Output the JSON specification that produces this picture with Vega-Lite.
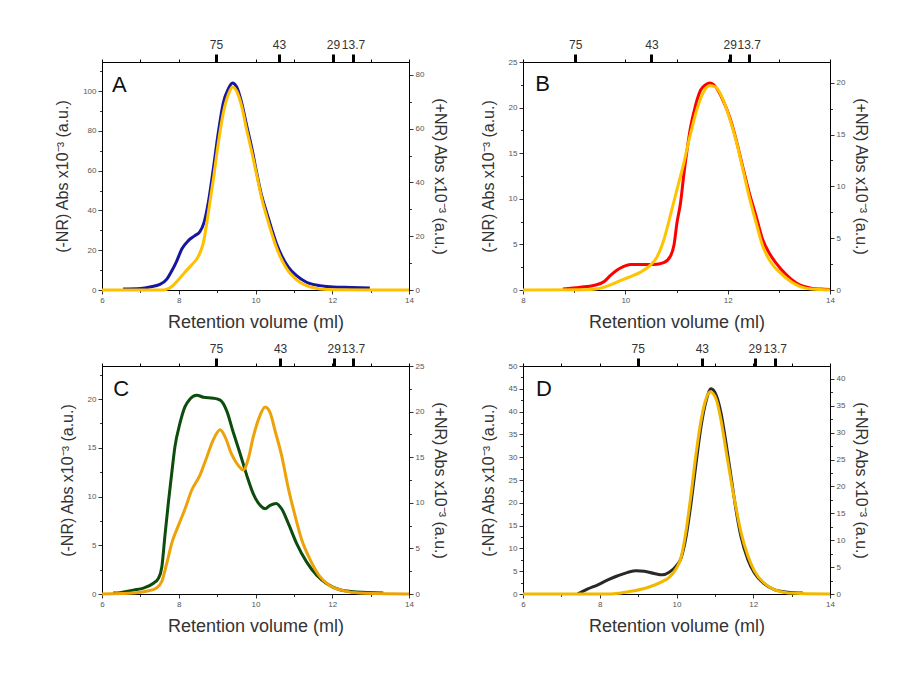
{
"$schema":"https://vega.github.io/schema/vega-lite/v6.json",
"background":"white",
"autosize":{"type":"pad"},
"padding":{"left":54,"top":37,"right":5,"bottom":5},
"config":{
 "font":"Liberation Sans",
 "view":{"stroke":"#000","strokeWidth":1},
 "axis":{"grid":false,"labelFont":"Liberation Sans","labelFontSize":8,"labelColor":"#555","labelFlush":false,"labelOverlap":false,"labelPadding":2,"tickColor":"#333","tickSize":4,"domainColor":"#000","titleFont":"Liberation Sans","titleFontSize":16,"titleFontWeight":"normal","titleColor":"#333"},
 "axisBottom":{"titlePadding":9,"titleFontSize":18},
 "axisLeft":{"titlePadding":12},
 "axisRight":{"titlePadding":8},
 "axisTop":{"labelFontSize":12,"labelColor":"#333","tickColor":"#000","domain":false,"labelPadding":3}
},
"columns":2,
"spacing":{"row":76,"column":114},
"bounds":"flush",
"datasets":{
 "A":[
  {"v":6.55,"a":0.5,"s":"-NR"},{"v":7.0,"a":0.8,"s":"-NR"},{"v":7.25,"a":1.5,"s":"-NR"},{"v":7.51,"a":2.8,"s":"-NR"},{"v":7.69,"a":5.5,"s":"-NR"},{"v":7.82,"a":9.7,"s":"-NR"},{"v":7.95,"a":14.7,"s":"-NR"},{"v":8.08,"a":20.6,"s":"-NR"},{"v":8.25,"a":24.8,"s":"-NR"},{"v":8.42,"a":27.3,"s":"-NR"},{"v":8.55,"a":29.3,"s":"-NR"},{"v":8.66,"a":34,"s":"-NR"},{"v":8.77,"a":44,"s":"-NR"},{"v":8.9,"a":60.8,"s":"-NR"},{"v":9.03,"a":79,"s":"-NR"},{"v":9.16,"a":94,"s":"-NR"},{"v":9.29,"a":101,"s":"-NR"},{"v":9.4,"a":104,"s":"-NR"},{"v":9.51,"a":102,"s":"-NR"},{"v":9.64,"a":94,"s":"-NR"},{"v":9.77,"a":82.6,"s":"-NR"},{"v":9.9,"a":71.7,"s":"-NR"},{"v":10.03,"a":59,"s":"-NR"},{"v":10.16,"a":47.4,"s":"-NR"},{"v":10.29,"a":39,"s":"-NR"},{"v":10.42,"a":30.7,"s":"-NR"},{"v":10.55,"a":23.1,"s":"-NR"},{"v":10.68,"a":17.3,"s":"-NR"},{"v":10.86,"a":11.4,"s":"-NR"},{"v":11.07,"a":7.2,"s":"-NR"},{"v":11.33,"a":3.9,"s":"-NR"},{"v":11.68,"a":2.2,"s":"-NR"},{"v":12.03,"a":1.5,"s":"-NR"},{"v":12.5,"a":1.3,"s":"-NR"},{"v":12.98,"a":1.0,"s":"-NR"},
  {"v":6.0,"a":0,"s":"+NR"},{"v":7.6,"a":0,"s":"+NR"},{"v":7.69,"a":0.3,"s":"+NR"},{"v":7.82,"a":1.3,"s":"+NR"},{"v":7.99,"a":3.8,"s":"+NR"},{"v":8.16,"a":6.6,"s":"+NR"},{"v":8.34,"a":9.4,"s":"+NR"},{"v":8.51,"a":12.5,"s":"+NR"},{"v":8.64,"a":17.5,"s":"+NR"},{"v":8.77,"a":28.6,"s":"+NR"},{"v":8.9,"a":41,"s":"+NR"},{"v":9.03,"a":54.6,"s":"+NR"},{"v":9.16,"a":65.8,"s":"+NR"},{"v":9.29,"a":72.6,"s":"+NR"},{"v":9.4,"a":75.5,"s":"+NR"},{"v":9.51,"a":73.9,"s":"+NR"},{"v":9.64,"a":68.3,"s":"+NR"},{"v":9.77,"a":59.6,"s":"+NR"},{"v":9.9,"a":51.5,"s":"+NR"},{"v":10.03,"a":42.9,"s":"+NR"},{"v":10.16,"a":34.2,"s":"+NR"},{"v":10.29,"a":27.4,"s":"+NR"},{"v":10.42,"a":21.2,"s":"+NR"},{"v":10.55,"a":15.6,"s":"+NR"},{"v":10.68,"a":11.3,"s":"+NR"},{"v":10.86,"a":6.9,"s":"+NR"},{"v":11.07,"a":3.8,"s":"+NR"},{"v":11.33,"a":1.6,"s":"+NR"},{"v":11.68,"a":0.4,"s":"+NR"},{"v":12.03,"a":0.1,"s":"+NR"},{"v":14.0,"a":0,"s":"+NR"}
 ],
 "B":[
  {"v":8.78,"a":0.1,"s":"-NR"},{"v":9.12,"a":0.3,"s":"-NR"},{"v":9.38,"a":0.5,"s":"-NR"},{"v":9.58,"a":0.9,"s":"-NR"},{"v":9.71,"a":1.6,"s":"-NR"},{"v":9.84,"a":2.2,"s":"-NR"},{"v":9.97,"a":2.6,"s":"-NR"},{"v":10.1,"a":2.8,"s":"-NR"},{"v":10.29,"a":2.8,"s":"-NR"},{"v":10.56,"a":2.8,"s":"-NR"},{"v":10.75,"a":3.0,"s":"-NR"},{"v":10.88,"a":3.7,"s":"-NR"},{"v":10.95,"a":4.9,"s":"-NR"},{"v":11.01,"a":7.4,"s":"-NR"},{"v":11.08,"a":9.6,"s":"-NR"},{"v":11.14,"a":12.5,"s":"-NR"},{"v":11.21,"a":15.5,"s":"-NR"},{"v":11.27,"a":17.7,"s":"-NR"},{"v":11.37,"a":20.2,"s":"-NR"},{"v":11.47,"a":21.9,"s":"-NR"},{"v":11.57,"a":22.5,"s":"-NR"},{"v":11.65,"a":22.7,"s":"-NR"},{"v":11.76,"a":22.3,"s":"-NR"},{"v":11.9,"a":20.9,"s":"-NR"},{"v":12.03,"a":19.1,"s":"-NR"},{"v":12.16,"a":16.6,"s":"-NR"},{"v":12.29,"a":13.6,"s":"-NR"},{"v":12.42,"a":10.7,"s":"-NR"},{"v":12.55,"a":8.2,"s":"-NR"},{"v":12.68,"a":5.6,"s":"-NR"},{"v":12.84,"a":3.8,"s":"-NR"},{"v":13.04,"a":2.3,"s":"-NR"},{"v":13.24,"a":1.2,"s":"-NR"},{"v":13.43,"a":0.5,"s":"-NR"},{"v":13.63,"a":0.2,"s":"-NR"},{"v":13.82,"a":0.1,"s":"-NR"},{"v":14.0,"a":0.05,"s":"-NR"},
  {"v":8.0,"a":0,"s":"+NR"},{"v":9.25,"a":0.03,"s":"+NR"},{"v":9.51,"a":0.16,"s":"+NR"},{"v":9.71,"a":0.5,"s":"+NR"},{"v":9.9,"a":0.9,"s":"+NR"},{"v":10.1,"a":1.3,"s":"+NR"},{"v":10.29,"a":1.7,"s":"+NR"},{"v":10.49,"a":2.4,"s":"+NR"},{"v":10.62,"a":3.2,"s":"+NR"},{"v":10.75,"a":4.8,"s":"+NR"},{"v":10.88,"a":7.2,"s":"+NR"},{"v":11.01,"a":9.7,"s":"+NR"},{"v":11.14,"a":12.2,"s":"+NR"},{"v":11.27,"a":15.0,"s":"+NR"},{"v":11.41,"a":17.6,"s":"+NR"},{"v":11.54,"a":19.2,"s":"+NR"},{"v":11.65,"a":19.7,"s":"+NR"},{"v":11.76,"a":19.6,"s":"+NR"},{"v":11.9,"a":18.5,"s":"+NR"},{"v":12.03,"a":16.7,"s":"+NR"},{"v":12.16,"a":14.5,"s":"+NR"},{"v":12.29,"a":11.8,"s":"+NR"},{"v":12.42,"a":9.0,"s":"+NR"},{"v":12.55,"a":6.6,"s":"+NR"},{"v":12.68,"a":4.3,"s":"+NR"},{"v":12.84,"a":2.7,"s":"+NR"},{"v":13.04,"a":1.6,"s":"+NR"},{"v":13.24,"a":0.8,"s":"+NR"},{"v":13.43,"a":0.3,"s":"+NR"},{"v":13.63,"a":0.1,"s":"+NR"},{"v":14.0,"a":0,"s":"+NR"}
 ],
 "C":[
  {"v":6.29,"a":0.1,"s":"-NR"},{"v":6.47,"a":0.14,"s":"-NR"},{"v":6.82,"a":0.4,"s":"-NR"},{"v":7.08,"a":0.6,"s":"-NR"},{"v":7.34,"a":1.1,"s":"-NR"},{"v":7.47,"a":1.6,"s":"-NR"},{"v":7.56,"a":2.8,"s":"-NR"},{"v":7.64,"a":6.0,"s":"-NR"},{"v":7.73,"a":9.4,"s":"-NR"},{"v":7.82,"a":12.5,"s":"-NR"},{"v":7.9,"a":15.1,"s":"-NR"},{"v":8.03,"a":17.5,"s":"-NR"},{"v":8.16,"a":19.2,"s":"-NR"},{"v":8.29,"a":20.0,"s":"-NR"},{"v":8.47,"a":20.4,"s":"-NR"},{"v":8.64,"a":20.2,"s":"-NR"},{"v":8.9,"a":20.1,"s":"-NR"},{"v":9.08,"a":19.9,"s":"-NR"},{"v":9.25,"a":18.8,"s":"-NR"},{"v":9.42,"a":16.6,"s":"-NR"},{"v":9.6,"a":14.4,"s":"-NR"},{"v":9.77,"a":12.2,"s":"-NR"},{"v":9.94,"a":10.3,"s":"-NR"},{"v":10.12,"a":9.1,"s":"-NR"},{"v":10.25,"a":8.75,"s":"-NR"},{"v":10.38,"a":9.1,"s":"-NR"},{"v":10.54,"a":9.3,"s":"-NR"},{"v":10.68,"a":8.75,"s":"-NR"},{"v":10.86,"a":7.2,"s":"-NR"},{"v":11.07,"a":5.2,"s":"-NR"},{"v":11.33,"a":3.3,"s":"-NR"},{"v":11.6,"a":1.9,"s":"-NR"},{"v":11.86,"a":1.06,"s":"-NR"},{"v":12.2,"a":0.44,"s":"-NR"},{"v":12.64,"a":0.2,"s":"-NR"},{"v":13.33,"a":0.1,"s":"-NR"},
  {"v":6.0,"a":0,"s":"+NR"},{"v":6.5,"a":0.05,"s":"+NR"},{"v":6.82,"a":0.1,"s":"+NR"},{"v":7.16,"a":0.3,"s":"+NR"},{"v":7.42,"a":0.66,"s":"+NR"},{"v":7.56,"a":1.4,"s":"+NR"},{"v":7.69,"a":3.4,"s":"+NR"},{"v":7.82,"a":5.6,"s":"+NR"},{"v":7.99,"a":7.5,"s":"+NR"},{"v":8.16,"a":9.3,"s":"+NR"},{"v":8.34,"a":11.4,"s":"+NR"},{"v":8.55,"a":13.0,"s":"+NR"},{"v":8.73,"a":15.0,"s":"+NR"},{"v":8.9,"a":16.9,"s":"+NR"},{"v":9.08,"a":18.0,"s":"+NR"},{"v":9.21,"a":17.2,"s":"+NR"},{"v":9.38,"a":15.3,"s":"+NR"},{"v":9.55,"a":14.1,"s":"+NR"},{"v":9.68,"a":13.6,"s":"+NR"},{"v":9.81,"a":14.8,"s":"+NR"},{"v":9.94,"a":17.2,"s":"+NR"},{"v":10.1,"a":19.4,"s":"+NR"},{"v":10.25,"a":20.5,"s":"+NR"},{"v":10.38,"a":19.9,"s":"+NR"},{"v":10.51,"a":17.9,"s":"+NR"},{"v":10.68,"a":15.2,"s":"+NR"},{"v":10.86,"a":11.5,"s":"+NR"},{"v":11.03,"a":8.6,"s":"+NR"},{"v":11.2,"a":6.0,"s":"+NR"},{"v":11.42,"a":3.8,"s":"+NR"},{"v":11.68,"a":1.9,"s":"+NR"},{"v":11.94,"a":0.9,"s":"+NR"},{"v":12.29,"a":0.37,"s":"+NR"},{"v":12.72,"a":0.1,"s":"+NR"},{"v":14.0,"a":0,"s":"+NR"}
 ],
 "D":[
  {"v":7.42,"a":0,"s":"-NR"},{"v":7.47,"a":0.2,"s":"-NR"},{"v":7.69,"a":1.1,"s":"-NR"},{"v":7.95,"a":2.0,"s":"-NR"},{"v":8.21,"a":3.1,"s":"-NR"},{"v":8.47,"a":4.0,"s":"-NR"},{"v":8.73,"a":4.75,"s":"-NR"},{"v":8.95,"a":5.1,"s":"-NR"},{"v":9.16,"a":5.0,"s":"-NR"},{"v":9.42,"a":4.5,"s":"-NR"},{"v":9.64,"a":4.2,"s":"-NR"},{"v":9.81,"a":4.75,"s":"-NR"},{"v":9.99,"a":6.1,"s":"-NR"},{"v":10.12,"a":7.9,"s":"-NR"},{"v":10.25,"a":12.6,"s":"-NR"},{"v":10.38,"a":20.0,"s":"-NR"},{"v":10.51,"a":28.7,"s":"-NR"},{"v":10.64,"a":36.8,"s":"-NR"},{"v":10.77,"a":42.3,"s":"-NR"},{"v":10.9,"a":45.0,"s":"-NR"},{"v":11.03,"a":43.7,"s":"-NR"},{"v":11.16,"a":39.7,"s":"-NR"},{"v":11.29,"a":33.1,"s":"-NR"},{"v":11.42,"a":25.8,"s":"-NR"},{"v":11.55,"a":18.5,"s":"-NR"},{"v":11.68,"a":12.6,"s":"-NR"},{"v":11.86,"a":7.5,"s":"-NR"},{"v":12.03,"a":4.6,"s":"-NR"},{"v":12.29,"a":2.2,"s":"-NR"},{"v":12.55,"a":0.95,"s":"-NR"},{"v":12.9,"a":0.4,"s":"-NR"},{"v":13.29,"a":0.2,"s":"-NR"},
  {"v":6.0,"a":0,"s":"+NR"},{"v":8.29,"a":0,"s":"+NR"},{"v":8.55,"a":0.2,"s":"+NR"},{"v":8.9,"a":0.6,"s":"+NR"},{"v":9.25,"a":1.2,"s":"+NR"},{"v":9.6,"a":2.2,"s":"+NR"},{"v":9.81,"a":3.1,"s":"+NR"},{"v":9.99,"a":4.7,"s":"+NR"},{"v":10.12,"a":6.8,"s":"+NR"},{"v":10.25,"a":11.8,"s":"+NR"},{"v":10.38,"a":18.6,"s":"+NR"},{"v":10.51,"a":26.1,"s":"+NR"},{"v":10.64,"a":32.3,"s":"+NR"},{"v":10.77,"a":36.3,"s":"+NR"},{"v":10.88,"a":37.6,"s":"+NR"},{"v":11.03,"a":36.3,"s":"+NR"},{"v":11.16,"a":32.3,"s":"+NR"},{"v":11.29,"a":26.7,"s":"+NR"},{"v":11.42,"a":21.1,"s":"+NR"},{"v":11.55,"a":16.1,"s":"+NR"},{"v":11.68,"a":11.5,"s":"+NR"},{"v":11.86,"a":7.1,"s":"+NR"},{"v":12.03,"a":4.3,"s":"+NR"},{"v":12.29,"a":2.0,"s":"+NR"},{"v":12.55,"a":0.8,"s":"+NR"},{"v":12.9,"a":0.2,"s":"+NR"},{"v":14.0,"a":0,"s":"+NR"}
 ]
},
"concat":[
 {"width":307,"height":228,
  "layer":[
   {"data":{"name":"A"},"transform":[{"filter":"datum.s==='-NR'"}],"mark":{"type":"line","color":"#1616a0","strokeWidth":3,"interpolate":"monotone"},
    "encoding":{"x":{"field":"v","type":"quantitative","scale":{"domain":[6,14],"nice":false,"zero":false},"axis":{"orient":"bottom","title":"Retention volume (ml)","values":[6,7,8,9,10,11,12,13,14],"labelExpr":"datum.value % 2 === 0 ? datum.label : ''","tickSize":{"condition":{"test":"datum.value % 2 === 0","value":4},"value":2.5}}},
     "y":{"field":"a","type":"quantitative","scale":{"domain":[0,114.6],"nice":false,"zero":false},"axis":{"orient":"left","title":"(-NR) Abs x10⁻³ (a.u.)","values":[0,10,20,30,40,50,60,70,80,90,100,110],"labelExpr":"datum.value % 20 === 0 ? datum.label : ''","tickSize":{"condition":{"test":"datum.value % 20 === 0","value":4},"value":2.5}}}}},
   {"data":{"name":"A"},"transform":[{"filter":"datum.s==='+NR'"}],"mark":{"type":"line","color":"#ffc000","strokeWidth":3,"interpolate":"monotone"},
    "encoding":{"x":{"field":"v","type":"quantitative","scale":{"domain":[6,14],"nice":false,"zero":false},"axis":null},
     "y":{"field":"a","type":"quantitative","scale":{"domain":[0,84.8],"nice":false,"zero":false},"axis":{"orient":"right","title":"(+NR) Abs x10⁻³ (a.u.)","values":[0,10,20,30,40,50,60,70,80],"labelExpr":"datum.value % 20 === 0 ? datum.label : ''","tickSize":{"condition":{"test":"datum.value % 20 === 0","value":4},"value":2.5}}}}},
   {"data":{"values":[{"v":8.97,"kDa":"75"},{"v":10.61,"kDa":"43"},{"v":12.02,"kDa":"29"},{"v":12.54,"kDa":"13.7"}]},"mark":{"type":"point","opacity":0},
    "encoding":{"x":{"field":"v","type":"quantitative","scale":{"domain":[6,14],"nice":false,"zero":false},"axis":{"orient":"top","title":null,"values":[6,7,8,9,10,11,12,13,14,8.97,10.61,12.02,12.54],"labelExpr":"datum.value % 1 === 0 ? '' : datum.value < 9.5 ? '75' : datum.value < 11 ? '43' : datum.value < 12.3 ? '29' : '13.7'","tickSize":{"condition":{"test":"datum.value % 1 === 0","value":3},"value":8},"tickWidth":{"condition":{"test":"datum.value % 1 === 0","value":1},"value":3}}}}},
   {"data":{"values":[{"t":"A"}]},"mark":{"type":"text","fontSize":22,"align":"left","baseline":"alphabetic","color":"#111"},
    "encoding":{"text":{"field":"t"},"x":{"datum":6.26,"type":"quantitative","scale":{"domain":[6,14],"nice":false,"zero":false},"axis":null},"y":{"datum":99.5,"type":"quantitative","scale":{"domain":[0,114.6],"nice":false,"zero":false},"axis":null}}}
  ],
  "resolve":{"scale":{"y":"independent"},"axis":{"x":"independent","y":"independent"}}},
 {"width":307,"height":228,
  "layer":[
   {"data":{"name":"B"},"transform":[{"filter":"datum.s==='-NR'"}],"mark":{"type":"line","color":"#ff0000","strokeWidth":3,"interpolate":"monotone"},
    "encoding":{"x":{"field":"v","type":"quantitative","scale":{"domain":[8,14],"nice":false,"zero":false},"axis":{"orient":"bottom","title":"Retention volume (ml)","values":[8,9,10,11,12,13,14],"labelExpr":"datum.value % 2 === 0 ? datum.label : ''","tickSize":{"condition":{"test":"datum.value % 2 === 0","value":4},"value":2.5}}},
     "y":{"field":"a","type":"quantitative","scale":{"domain":[0,25],"nice":false,"zero":false},"axis":{"orient":"left","title":"(-NR) Abs x10⁻³ (a.u.)","values":[0,2.5,5,7.5,10,12.5,15,17.5,20,22.5,25],"labelExpr":"datum.value % 5 === 0 ? datum.label : ''","tickSize":{"condition":{"test":"datum.value % 5 === 0","value":4},"value":2.5}}}}},
   {"data":{"name":"B"},"transform":[{"filter":"datum.s==='+NR'"}],"mark":{"type":"line","color":"#ffc400","strokeWidth":3,"interpolate":"monotone"},
    "encoding":{"x":{"field":"v","type":"quantitative","scale":{"domain":[8,14],"nice":false,"zero":false},"axis":null},
     "y":{"field":"a","type":"quantitative","scale":{"domain":[0,22],"nice":false,"zero":false},"axis":{"orient":"right","title":"(+NR) Abs x10⁻³ (a.u.)","values":[0,2.5,5,7.5,10,12.5,15,17.5,20],"labelExpr":"datum.value % 5 === 0 ? datum.label : ''","tickSize":{"condition":{"test":"datum.value % 5 === 0","value":4},"value":2.5}}}}},
   {"data":{"values":[{"v":9.02,"kDa":"75"},{"v":10.51,"kDa":"43"},{"v":12.04,"kDa":"29"},{"v":12.41,"kDa":"13.7"}]},"mark":{"type":"point","opacity":0},
    "encoding":{"x":{"field":"v","type":"quantitative","scale":{"domain":[8,14],"nice":false,"zero":false},"axis":{"orient":"top","title":null,"values":[8,9,10,11,12,13,14,9.02,10.51,12.04,12.41],"labelExpr":"datum.value % 1 === 0 ? '' : datum.value < 9.5 ? '75' : datum.value < 11 ? '43' : datum.value < 12.2 ? '29' : '13.7'","tickSize":{"condition":{"test":"datum.value % 1 === 0","value":3},"value":8},"tickWidth":{"condition":{"test":"datum.value % 1 === 0","value":1},"value":3}}}}},
   {"data":{"values":[{"t":"B"}]},"mark":{"type":"text","fontSize":22,"align":"left","baseline":"alphabetic","color":"#111"},
    "encoding":{"text":{"field":"t"},"x":{"datum":8.24,"type":"quantitative","scale":{"domain":[8,14],"nice":false,"zero":false},"axis":null},"y":{"datum":21.8,"type":"quantitative","scale":{"domain":[0,25],"nice":false,"zero":false},"axis":null}}}
  ],
  "resolve":{"scale":{"y":"independent"},"axis":{"x":"independent","y":"independent"}}},
 {"width":307,"height":228,
  "layer":[
   {"data":{"name":"C"},"transform":[{"filter":"datum.s==='-NR'"}],"mark":{"type":"line","color":"#0c4c0c","strokeWidth":3,"interpolate":"monotone"},
    "encoding":{"x":{"field":"v","type":"quantitative","scale":{"domain":[6,14],"nice":false,"zero":false},"axis":{"orient":"bottom","title":"Retention volume (ml)","values":[6,7,8,9,10,11,12,13,14],"labelExpr":"datum.value % 2 === 0 ? datum.label : ''","tickSize":{"condition":{"test":"datum.value % 2 === 0","value":4},"value":2.5}}},
     "y":{"field":"a","type":"quantitative","scale":{"domain":[0,23.4],"nice":false,"zero":false},"axis":{"orient":"left","title":"(-NR) Abs x10⁻³ (a.u.)","values":[0,2.5,5,7.5,10,12.5,15,17.5,20,22.5],"labelExpr":"datum.value % 5 === 0 ? datum.label : ''","tickSize":{"condition":{"test":"datum.value % 5 === 0","value":4},"value":2.5}}}}},
   {"data":{"name":"C"},"transform":[{"filter":"datum.s==='+NR'"}],"mark":{"type":"line","color":"#eea20a","strokeWidth":3,"interpolate":"monotone"},
    "encoding":{"x":{"field":"v","type":"quantitative","scale":{"domain":[6,14],"nice":false,"zero":false},"axis":null},
     "y":{"field":"a","type":"quantitative","scale":{"domain":[0,25],"nice":false,"zero":false},"axis":{"orient":"right","title":"(+NR) Abs x10⁻³ (a.u.)","values":[0,2.5,5,7.5,10,12.5,15,17.5,20,22.5,25],"labelExpr":"datum.value % 5 === 0 ? datum.label : ''","tickSize":{"condition":{"test":"datum.value % 5 === 0","value":4},"value":2.5}}}}},
   {"data":{"values":[{"v":8.97,"kDa":"75"},{"v":10.64,"kDa":"43"},{"v":12.04,"kDa":"29"},{"v":12.54,"kDa":"13.7"}]},"mark":{"type":"point","opacity":0},
    "encoding":{"x":{"field":"v","type":"quantitative","scale":{"domain":[6,14],"nice":false,"zero":false},"axis":{"orient":"top","title":null,"values":[6,7,8,9,10,11,12,13,14,8.97,10.64,12.04,12.54],"labelExpr":"datum.value % 1 === 0 ? '' : datum.value < 9.5 ? '75' : datum.value < 11 ? '43' : datum.value < 12.3 ? '29' : '13.7'","tickSize":{"condition":{"test":"datum.value % 1 === 0","value":3},"value":8},"tickWidth":{"condition":{"test":"datum.value % 1 === 0","value":1},"value":3}}}}},
   {"data":{"values":[{"t":"C"}]},"mark":{"type":"text","fontSize":22,"align":"left","baseline":"alphabetic","color":"#111"},
    "encoding":{"text":{"field":"t"},"x":{"datum":6.29,"type":"quantitative","scale":{"domain":[6,14],"nice":false,"zero":false},"axis":null},"y":{"datum":20.3,"type":"quantitative","scale":{"domain":[0,23.4],"nice":false,"zero":false},"axis":null}}}
  ],
  "resolve":{"scale":{"y":"independent"},"axis":{"x":"independent","y":"independent"}}},
 {"width":307,"height":228,
  "layer":[
   {"data":{"name":"D"},"transform":[{"filter":"datum.s==='-NR'"}],"mark":{"type":"line","color":"#282828","strokeWidth":3,"interpolate":"monotone"},
    "encoding":{"x":{"field":"v","type":"quantitative","scale":{"domain":[6,14],"nice":false,"zero":false},"axis":{"orient":"bottom","title":"Retention volume (ml)","values":[6,7,8,9,10,11,12,13,14],"labelExpr":"datum.value % 2 === 0 ? datum.label : ''","tickSize":{"condition":{"test":"datum.value % 2 === 0","value":4},"value":2.5}}},
     "y":{"field":"a","type":"quantitative","scale":{"domain":[0,50],"nice":false,"zero":false},"axis":{"orient":"left","title":"(-NR) Abs x10⁻³ (a.u.)","values":[0,2.5,5,7.5,10,12.5,15,17.5,20,22.5,25,27.5,30,32.5,35,37.5,40,42.5,45,47.5,50],"labelExpr":"datum.value % 5 === 0 ? datum.label : ''","tickSize":{"condition":{"test":"datum.value % 5 === 0","value":4},"value":2.5}}}}},
   {"data":{"name":"D"},"transform":[{"filter":"datum.s==='+NR'"}],"mark":{"type":"line","color":"#f2b800","strokeWidth":3,"interpolate":"monotone"},
    "encoding":{"x":{"field":"v","type":"quantitative","scale":{"domain":[6,14],"nice":false,"zero":false},"axis":null},
     "y":{"field":"a","type":"quantitative","scale":{"domain":[0,42.4],"nice":false,"zero":false},"axis":{"orient":"right","title":"(+NR) Abs x10⁻³ (a.u.)","values":[0,2.5,5,7.5,10,12.5,15,17.5,20,22.5,25,27.5,30,32.5,35,37.5,40],"labelExpr":"datum.value % 5 === 0 ? datum.label : ''","tickSize":{"condition":{"test":"datum.value % 5 === 0","value":4},"value":2.5}}}}},
   {"data":{"values":[{"v":8.99,"kDa":"75"},{"v":10.66,"kDa":"43"},{"v":12.04,"kDa":"29"},{"v":12.56,"kDa":"13.7"}]},"mark":{"type":"point","opacity":0},
    "encoding":{"x":{"field":"v","type":"quantitative","scale":{"domain":[6,14],"nice":false,"zero":false},"axis":{"orient":"top","title":null,"values":[6,7,8,9,10,11,12,13,14,8.99,10.66,12.04,12.56],"labelExpr":"datum.value % 1 === 0 ? '' : datum.value < 9.5 ? '75' : datum.value < 11 ? '43' : datum.value < 12.3 ? '29' : '13.7'","tickSize":{"condition":{"test":"datum.value % 1 === 0","value":3},"value":8},"tickWidth":{"condition":{"test":"datum.value % 1 === 0","value":1},"value":3}}}}},
   {"data":{"values":[{"t":"D"}]},"mark":{"type":"text","fontSize":22,"align":"left","baseline":"alphabetic","color":"#111"},
    "encoding":{"text":{"field":"t"},"x":{"datum":6.34,"type":"quantitative","scale":{"domain":[6,14],"nice":false,"zero":false},"axis":null},"y":{"datum":43.4,"type":"quantitative","scale":{"domain":[0,50],"nice":false,"zero":false},"axis":null}}}
  ],
  "resolve":{"scale":{"y":"independent"},"axis":{"x":"independent","y":"independent"}}}
]
}
